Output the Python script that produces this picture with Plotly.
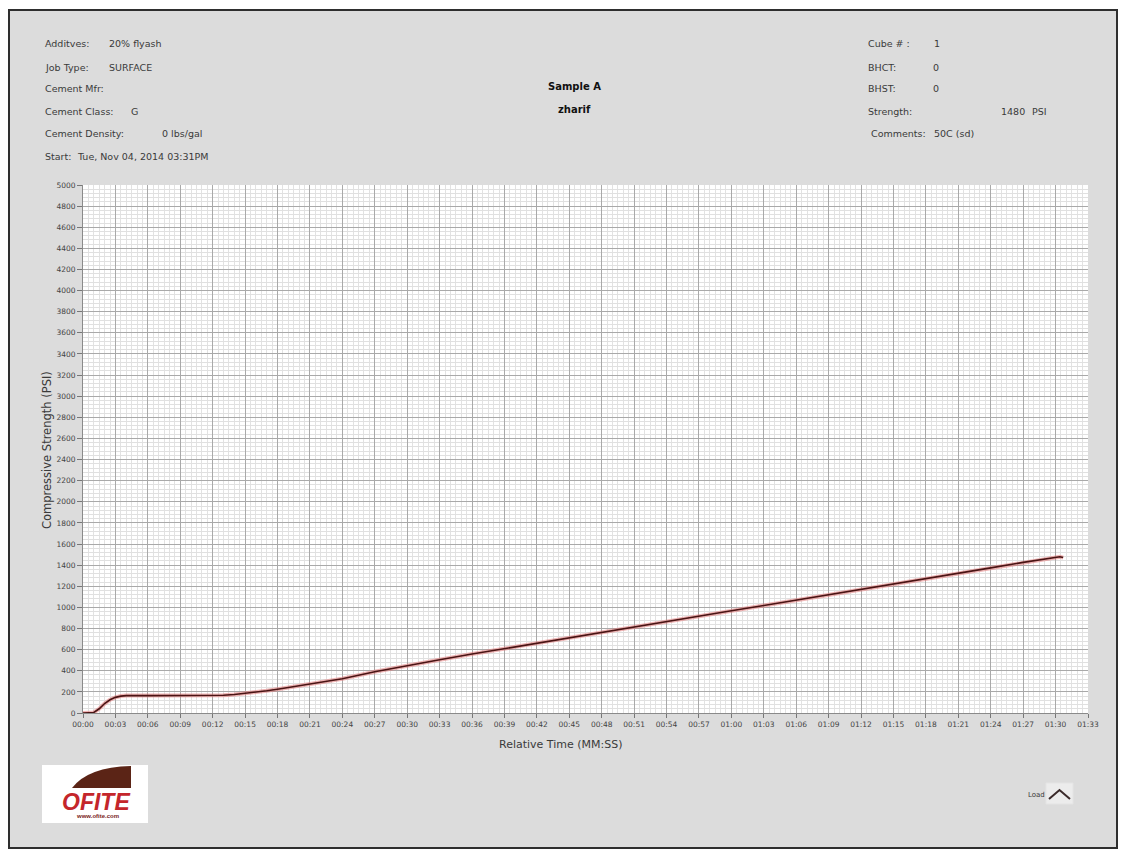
import plotly.graph_objects as go

# ---- data -------------------------------------------------------------
time_min = [0, 0.5, 1.0, 1.5, 2.0, 2.5, 3.0, 3.5, 4.0, 6, 9, 12, 13, 14, 15,
            16, 17, 18, 20, 22, 24, 27, 30, 33, 36, 39, 42, 45, 48, 51, 54,
            57, 60, 63, 66, 69, 72, 75, 78, 81, 84, 87, 90, 90.4, 90.7]
load_psi = [0, 0, 5, 40, 90, 125, 148, 160, 165, 165, 165, 165, 168, 175, 185,
            197, 210, 225, 258, 292, 325, 390, 450, 505, 558, 610, 662, 714,
            766, 818, 868, 918, 968, 1018, 1068, 1118, 1168, 1218, 1270, 1322,
            1374, 1426, 1476, 1480, 1472]

x_tick_vals = list(range(0, 94, 3))
x_tick_text = ["00:00", "00:03", "00:06", "00:09", "00:12", "00:15", "00:18",
               "00:21", "00:24", "00:27", "00:30", "00:33", "00:36", "00:39",
               "00:42", "00:45", "00:48", "00:51", "00:54", "00:57", "01:00",
               "01:03", "01:06", "01:09", "01:12", "01:15", "01:18", "01:21",
               "01:24", "01:27", "01:30", "01:33"]

left_labels = ["Additves:", "Job Type:", "Cement Mfr:", "Cement Class:",
               "Cement Density:", "Start:"]
left_values = ["20% flyash", "SURFACE", "", "G", "0 lbs/gal",
               "Tue, Nov 04, 2014 03:31PM"]
right_labels = ["Cube # :", "BHCT:", "BHST:", "Strength:", "Comments:"]
right_values = ["1", "0", "0", "1480", "50C (sd)"]

# ---- page geometry (pixels) --------------------------------------------
W, H = 1125, 856
L, R, T, B = 83, 1088, 185, 713


def px(x):
    return (x - L) / (R - L)


def py(y):
    return 1 - (y - T) / (B - T)


FONT = "DejaVu Sans"
TXT = "#3a3a3a"

fig = go.Figure()

# glow under the load curve
fig.add_trace(go.Scatter(x=time_min, y=load_psi, mode="lines",
                         line=dict(color="rgba(225,120,120,0.55)", width=4),
                         hoverinfo="skip", showlegend=False))
fig.add_trace(go.Scatter(x=time_min, y=load_psi, mode="lines", name="Load",
                         line=dict(color="#4a1414", width=1.6),
                         showlegend=False))

shapes = [
    # grey panel with dark frame
    dict(type="rect", xref="paper", yref="paper", layer="below",
         x0=px(9), x1=px(1117), y0=py(848), y1=py(10),
         fillcolor="#dcdcdc", line=dict(color="#2e2e2e", width=2)),
    # white chart area
    dict(type="rect", xref="paper", yref="paper", layer="below",
         x0=0, x1=1, y0=0, y1=1, fillcolor="white", line=dict(width=0)),
    # logo box
    dict(type="rect", xref="paper", yref="paper", layer="above",
         x0=px(42), x1=px(148), y0=py(823), y1=py(765),
         fillcolor="white", line=dict(width=0)),
    dict(type="path", xref="paper", yref="paper", layer="above",
         path=(f"M {px(72)} {py(788)} Q {px(88)} {py(767)} {px(131)} {py(766)} "
               f"L {px(131)} {py(788)} Z"),
         fillcolor="#5b2416", line=dict(width=0)),
    # legend swatch
    dict(type="rect", xref="paper", yref="paper", layer="above",
         x0=px(1046), x1=px(1073), y0=py(804), y1=py(783),
         fillcolor="#ececec", line=dict(color="#e4e4e4", width=1)),
    dict(type="path", xref="paper", yref="paper", layer="above",
         path=f"M {px(1049)} {py(799)} L {px(1059.5)} {py(790)} L {px(1070)} {py(799)}",
         line=dict(color="#3a2a2a", width=2)),
]

annotations = []


def add_text(x, y, text, size=9.5, bold=False, anchor="left", color=TXT,
             family=FONT):
    annotations.append(dict(
        xref="paper", yref="paper", x=px(x), y=py(y), text=text,
        showarrow=False, xanchor=anchor, yanchor="middle",
        font=dict(family=family, size=size, color=color,
                  weight="bold" if bold else "normal")))


# header, left block
left_rows = [44, 67, 89, 111, 134, 156]
left_val_x = [107, 107, 0, 129, 160, 75]
for lbl, val, yy, vx in zip(left_labels, left_values, left_rows, left_val_x):
    add_text(43, yy, lbl)
    if val:
        add_text(vx, yy, val)

# header, right block
right_rows = [44, 67, 89, 111, 134]
right_val_x = [932, 931, 931, 999, 932]
for lbl, val, yy, vx in zip(right_labels, right_values, right_rows, right_val_x):
    add_text(866 if lbl != "Comments:" else 869, yy, lbl)
    add_text(vx, yy, val)
add_text(1030, 111, "PSI")

# centre title
add_text(574, 86, "Sample A", size=10, bold=True, anchor="center", color="#111")
add_text(574, 110, "zharif", size=10, bold=True, anchor="center", color="#111")

# axis titles
annotations.append(dict(
    xref="paper", yref="paper", x=px(47), y=py(450),
    text="Compressive Strength (PSI)", textangle=-90, showarrow=False,
    xanchor="center", yanchor="middle",
    font=dict(family=FONT, size=11.5, color=TXT)))
add_text(561, 744, "Relative Time (MM:SS)", size=11, anchor="center")

# legend label
add_text(1036, 795, "Load", size=7, anchor="center")

# logo lettering
annotations.append(dict(
    xref="paper", yref="paper", x=px(96), y=py(802), text="<b><i>OFITE</i></b>",
    showarrow=False, xanchor="center", yanchor="middle",
    font=dict(family="Liberation Sans", size=23, color="#c4262b")))
add_text(97, 816, "<b>www.ofite.com</b>", size=6, anchor="center",
         color="#7a1c1c", family="Liberation Sans")

fig.update_layout(
    width=W, height=H,
    margin=dict(l=L, r=W - R, t=T, b=H - B, pad=0),
    paper_bgcolor="white",
    plot_bgcolor="white",
    shapes=shapes,
    annotations=annotations,
    showlegend=False,
    xaxis=dict(
        range=[0, 93], tickmode="array", tickvals=x_tick_vals,
        ticktext=x_tick_text, ticks="outside", ticklen=4, tickcolor="#777",
        tickfont=dict(family=FONT, size=7.5, color="#444"),
        showgrid=True, gridcolor="#a9a9a9", gridwidth=1,
        showline=True, linecolor="#8a8a8a", linewidth=1, zeroline=False,
        minor=dict(tick0=0, dtick=0.5, showgrid=True, gridcolor="#e2e2e2",
                   gridwidth=1, ticks=""),
    ),
    yaxis=dict(
        range=[0, 5000], tick0=0, dtick=200, tickformat="d",
        ticks="outside", ticklen=5, tickcolor="#777",
        tickfont=dict(family=FONT, size=7.5, color="#444"),
        showgrid=True, gridcolor="#a9a9a9", gridwidth=1,
        showline=True, linecolor="#8a8a8a", linewidth=1, zeroline=False,
        minor=dict(tick0=0, dtick=40, showgrid=True, gridcolor="#e0e0e0",
                   gridwidth=1, ticks=""),
    ),
)

fig.write_html("out.html")
